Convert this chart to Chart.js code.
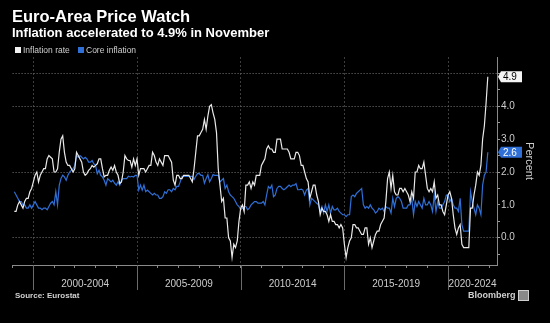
<!DOCTYPE html>
<html>
<head>
<meta charset="utf-8">
<script src="https://cdn.jsdelivr.net/npm/chart.js@4.4.0/dist/chart.umd.min.js"></script>
<style>
    body { margin: 0; background: #000; width: 550px; height: 323px; overflow: hidden; position: relative; font-family: "Liberation Sans", Arial, sans-serif; }
    canvas { position: absolute; left: 0; top: 0; }
    .txt { position: absolute; white-space: nowrap; line-height: 1; }
    .box { position: absolute; width: 6px; height: 6px; }
</style>
</head>
<body>
<canvas id="chart" width="550" height="323"></canvas>
<div class="txt" style="left:12px;top:8px;font-size:16.5px;font-weight:bold;color:#fff;">Euro-Area Price Watch</div>
<div class="txt" style="left:12px;top:25.5px;font-size:13px;font-weight:bold;color:#fff;">Inflation accelerated to 4.9% in November</div>
<div class="box" style="left:15px;top:47px;background:#f2f2f2;"></div>
<div class="txt" style="left:23px;top:46px;font-size:8.5px;color:#cfcfcf;">Inflation rate</div>
<div class="box" style="left:78px;top:47px;background:#2f6fd6;"></div>
<div class="txt" style="left:86px;top:46px;font-size:8.5px;color:#cfcfcf;">Core inflation</div>
<div class="txt" style="left:15px;top:292px;font-size:8px;font-weight:bold;color:#d0d0d0;">Source: Eurostat</div>
<div class="txt" style="left:468px;top:291px;font-size:9px;font-weight:bold;color:#cfcfcf;">Bloomberg</div>
<div style="position:absolute;left:518px;top:290px;width:9px;height:9px;background:#8a8a8a;border:1px solid #cfcfcf;"></div>
<script>
// monthly data, Jan 1999 .. Nov 2021 (year-on-year %)
const firstYear = 1999;

const inflationRate = [
    0.8, 0.8, 1.0, 1.1, 1.0, 0.9, 1.1, 1.2, 1.2, 1.4, 1.5, 1.7,
    1.9, 2.0, 1.7, 1.9, 2.0, 2.1, 2.1, 2.4, 2.5, 2.45, 2.4, 2.0,
    2.0, 2.1, 2.6, 3.0, 3.1, 2.6, 2.3, 2.2, 2.2, 2.1, 2.0, 2.1,
    2.6, 2.5, 2.4, 2.3, 2.0, 1.9, 1.95, 2.05, 2.1, 2.2, 2.15, 2.2,
    2.25, 2.4, 2.4, 2.1, 1.85, 1.9, 1.9, 2.05, 2.15, 2.05, 2.2, 2.0,
    1.9, 1.65, 1.7, 2.0, 2.5, 2.4, 2.35, 2.35, 2.15, 2.4, 2.2, 2.4,
    1.9, 2.1, 2.1, 2.1, 2.0, 2.1, 2.2, 2.2, 2.6, 2.5, 2.3, 2.2,
    2.4, 2.3, 2.2, 2.5, 2.5, 2.5, 2.4, 2.3, 1.75, 1.6, 1.9, 1.9,
    1.8, 1.8, 1.9, 1.9, 1.9, 1.9, 1.8, 1.7, 2.1, 2.6, 3.1, 3.1,
    3.2, 3.3, 3.6, 3.3, 3.7, 4.0, 4.05, 3.8, 3.6, 3.2, 2.1, 1.6,
    1.1, 1.2, 0.6, 0.6, 0.0, -0.1, -0.6, -0.2, -0.3, -0.1, 0.5, 0.9,
    1.0, 0.8, 1.6, 1.6, 1.7, 1.5, 1.7, 1.6, 1.9, 1.9, 1.9, 2.2,
    2.3, 2.4, 2.7, 2.8, 2.7, 2.7, 2.6, 2.6, 3.0, 3.0, 3.0, 2.7,
    2.7, 2.7, 2.7, 2.6, 2.4, 2.4, 2.4, 2.6, 2.6, 2.5, 2.2, 2.2,
    2.0, 1.8, 1.7, 1.2, 1.4, 1.6, 1.6, 1.3, 1.1, 0.7, 0.9, 0.8,
    0.8, 0.7, 0.5, 0.7, 0.5, 0.5, 0.4, 0.4, 0.3, 0.4, 0.3, -0.2,
    -0.6, -0.3, -0.1, 0.0, 0.4, 0.4, 0.3, 0.3, 0.2, 0.1, 0.1, 0.3,
    0.3, -0.2, 0.0, -0.3, -0.1, 0.1, 0.2, 0.2, 0.4, 0.5, 0.6, 1.1,
    1.8, 2.0, 1.5, 1.9, 1.4, 1.3, 1.3, 1.5, 1.5, 1.4, 1.5, 1.4,
    1.3, 1.1, 1.4, 1.2, 2.0, 2.0, 2.2, 2.1, 2.1, 2.3, 1.9, 1.5,
    1.4, 1.5, 1.4, 1.7, 1.2, 1.3, 1.0, 1.0, 0.8, 0.7, 1.0, 1.3,
    1.4, 1.2, 0.7, 0.3, 0.1, 0.3, 0.4, -0.2, -0.3, -0.3, -0.3, -0.3,
    0.9, 0.9, 1.3, 1.6, 2.0, 1.9, 2.2, 3.0, 3.4, 4.1, 4.9
];

const coreInflation = [
    1.4, 1.3, 1.2, 1.1, 1.1, 1.0, 1.0, 0.9, 0.9, 1.0, 0.9, 1.0,
    1.1, 1.0, 0.9, 0.9, 0.85, 0.9, 0.9, 0.85, 0.95, 1.05, 1.1, 1.0,
    1.4, 1.0, 1.6, 1.8, 1.9, 1.85, 1.75, 1.9, 2.0, 2.05, 2.1, 2.2,
    2.5, 2.45, 2.5, 2.45, 2.4, 2.45, 2.4, 2.3, 2.3, 2.35, 2.25, 2.2,
    1.95, 2.05, 1.9, 1.85, 1.75, 1.6, 1.8, 1.75, 1.7, 1.75, 1.66, 1.6,
    1.7, 1.6, 1.75, 1.8, 1.8, 1.8, 1.87, 1.85, 1.87, 1.85, 1.9, 1.9,
    1.45, 1.6, 1.45, 1.6, 1.4, 1.45, 1.4, 1.35, 1.3, 1.35, 1.3, 1.3,
    1.2, 1.2, 1.25, 1.4, 1.35, 1.46, 1.46, 1.4, 1.5, 1.46, 1.56, 1.56,
    1.7, 1.87, 1.87, 1.87, 1.87, 1.87, 1.87, 1.87, 1.77, 1.87, 1.95, 1.95,
    1.9, 1.9, 1.66, 1.8, 1.92, 1.7, 1.8, 1.92, 1.9, 1.9, 1.9, 1.7,
    1.75, 1.8, 1.5, 1.6, 1.4, 1.3, 1.25, 1.2, 1.1, 1.0, 0.95, 0.85,
    0.9, 0.95, 0.95, 0.85, 0.9, 1.0, 1.05, 1.1, 1.1, 1.05, 1.05, 1.05,
    1.1, 1.0, 1.3, 1.56, 1.5, 1.6, 1.25, 1.3, 1.5, 1.56, 1.56, 1.5,
    1.46, 1.5, 1.55, 1.6, 1.55, 1.6, 1.6, 1.65, 1.46, 1.46, 1.48, 1.45,
    1.3, 1.45, 1.5, 1.0, 1.2, 1.15, 1.1, 1.05, 1.0, 0.8, 0.95, 0.75,
    1.0, 0.8, 1.0, 0.75, 0.95, 0.85, 0.85, 0.9, 0.8, 0.75, 0.7, 0.7,
    0.64, 0.7, 0.7, 1.25, 1.3, 1.25, 1.35, 1.4, 1.45, 1.5, 1.0, 0.9,
    0.95, 0.9, 1.0, 0.9, 0.85, 0.75, 0.8, 0.9, 0.85, 0.9, 0.8, 0.95,
    0.9, 0.9, 0.75, 1.2, 0.95, 1.2, 1.25, 1.2, 1.1, 0.9, 0.9, 0.9,
    1.0, 1.0, 1.2, 0.7, 1.1, 0.95, 1.1, 1.0, 0.9, 1.2, 1.0, 1.0,
    1.1, 1.0, 0.8, 1.3, 0.8, 1.1, 0.9, 0.9, 1.0, 1.1, 1.3, 1.3,
    1.1, 1.2, 1.0, 0.9, 0.9, 0.8, 1.2, 0.4, 0.2, 0.2, 0.2, 0.2,
    1.4, 1.1, 0.9, 0.7, 1.0, 0.9, 0.7, 1.6, 1.9, 2.0, 2.6
];

const periodStarts = [2000, 2005, 2010, 2015, 2020];
const periodLabels = ["2000-2004", "2005-2009", "2010-2014", "2015-2019", "2020-2024"];
const yTickValues = [0, 1, 2, 3, 4];
const yGridValues = [0, 2, 4, 5];

const xMin = 1999, xMax = 2022.36;
const yMin = -0.83, yMax = 5.5;
const whiteColor = "#e9e9e9";
const blueColor = "#2f6fd6";

// each value sits at the end of its month
function toPoints(values) {
    return values.map((v, i) => ({ x: firstYear + (i + 1) / 12, y: v }));
}

// year ticks plus one tick in the middle of each period for its label
const labelAt = {};
const xTicks = [];
for (let yr = 1999; yr <= 2022; yr++) xTicks.push(yr);
periodStarts.forEach((p, i) => {
    const mid = (p + Math.min(p + 5, xMax)) / 2;
    labelAt[mid] = periodLabels[i];
    xTicks.push(mid);
});
xTicks.sort((a, b) => a - b);

const yTicks = [];
for (let k = -1; k <= 10; k++) yTicks.push(k / 2);

Chart.defaults.font.family = '"Liberation Sans", Arial, sans-serif';

// separators under the x axis and the last-value tags on the y axis
const extras = {
    id: "extras",
    afterDraw(chart) {
        const ctx = chart.ctx;
        const xs = chart.scales.x, ys = chart.scales.y;
        const area = chart.chartArea;
        ctx.save();
        ctx.strokeStyle = "#6b6b6b";
        ctx.lineWidth = 1;
        periodStarts.forEach(p => {
            const px = Math.round(xs.getPixelForValue(p)) + 0.5;
            ctx.beginPath();
            ctx.moveTo(px, area.bottom);
            ctx.lineTo(px, area.bottom + 25);
            ctx.stroke();
        });

        const tags = [
            { v: inflationRate[inflationRate.length - 1], bg: "#f4f4f4", fg: "#000" },
            { v: coreInflation[coreInflation.length - 1], bg: blueColor, fg: "#fff" }
        ];
        tags.forEach(t => {
            const cy = ys.getPixelForValue(t.v);
            const x0 = area.right + 1;
            ctx.fillStyle = t.bg;
            ctx.beginPath();
            ctx.moveTo(x0, cy);
            ctx.lineTo(x0 + 3, cy - 5.5);
            ctx.lineTo(x0 + 24, cy - 5.5);
            ctx.lineTo(x0 + 24, cy + 5.5);
            ctx.lineTo(x0 + 3, cy + 5.5);
            ctx.closePath();
            ctx.fill();
            ctx.fillStyle = t.fg;
            ctx.font = '10px "Liberation Sans", Arial, sans-serif';
            ctx.textBaseline = "middle";
            ctx.textAlign = "left";
            ctx.fillText(t.v.toFixed(1), x0 + 5, cy + 0.5);
        });
        ctx.restore();
    }
};

new Chart(document.getElementById("chart"), {
    type: "line",
    data: {
        datasets: [
            {
                label: "Inflation rate",
                data: toPoints(inflationRate),
                borderColor: whiteColor,
                borderWidth: 1.2,
                pointRadius: 0,
                tension: 0
            },
            {
                label: "Core inflation",
                data: toPoints(coreInflation),
                borderColor: blueColor,
                borderWidth: 1.2,
                pointRadius: 0,
                tension: 0
            }
        ]
    },
    options: {
        responsive: false,
        animation: false,
        layout: { padding: { left: 12.6, top: 57, right: 0, bottom: 0 } },
        plugins: {
            legend: { display: false },
            tooltip: { enabled: false }
        },
        scales: {
            x: {
                type: "linear",
                min: xMin,
                max: xMax,
                afterBuildTicks: axis => { axis.ticks = xTicks.map(v => ({ value: v })); },
                afterFit: axis => { axis.height = 58; },
                grid: {
                    color: c => (c.tick && c.tick.value % 5 === 0) ? "#3d3d3d" : "transparent",
                    tickColor: c => (c.tick && Number.isInteger(c.tick.value)) ? "#8a8a8a" : "transparent",
                    tickLength: 3,
                    lineWidth: 1
                },
                border: { color: "#8a8a8a", width: 1, dash: [2, 2] },
                ticks: {
                    autoSkip: false,
                    maxRotation: 0,
                    padding: 10,
                    color: "#cdcdcd",
                    font: { size: 10 },
                    callback: v => labelAt[v] || ""
                }
            },
            y: {
                position: "right",
                min: yMin,
                max: yMax,
                afterBuildTicks: axis => { axis.ticks = yTicks.map(v => ({ value: v })); },
                afterFit: axis => { axis.width = 53; },
                grid: {
                    color: c => (c.tick && yGridValues.includes(c.tick.value)) ? "#777" : "transparent",
                    tickColor: "#9a9a9a",
                    tickLength: 3,
                    lineWidth: 1
                },
                border: { color: "#8a8a8a", width: 1, dash: [1, 2] },
                ticks: {
                    padding: 1,
                    color: "#cdcdcd",
                    font: { size: 10 },
                    callback: v => yTickValues.includes(v) ? v.toFixed(1) : ""
                },
                title: {
                    display: true,
                    text: "Percent",
                    color: "#cdcdcd",
                    font: { size: 11 },
                    padding: { top: 14, bottom: 0 }
                }
            }
        }
    },
    plugins: [extras]
});
</script>
</body>
</html>
